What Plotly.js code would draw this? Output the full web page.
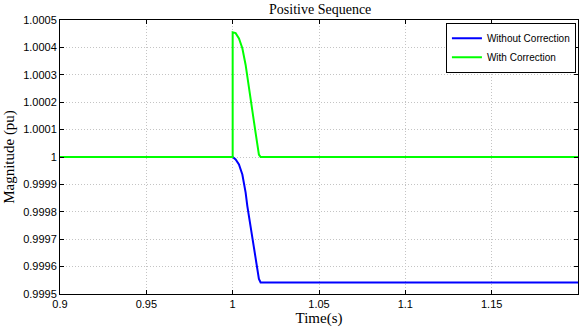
<!DOCTYPE html>
<html>
<head>
<meta charset="utf-8">
<script src="https://cdn.plot.ly/plotly-3.0.1.min.js"></script>
<style>html,body{margin:0;padding:0;background:#fff;}#chart{width:579px;height:329px;}</style>
</head>
<body>
<div id="chart"></div>
<script>
// Time (s) and magnitude (pu) samples
var timeWithout = [0.9, 1.0, 1.00173, 1.00364, 1.00561, 1.00653, 1.00751, 1.0085, 1.00942, 1.01139, 1.01329, 1.0152, 1.01618, 1.2];
var magWithout  = [1.0, 1.0, 0.999991, 0.999973, 0.999936, 0.999906, 0.99987, 0.999821, 0.999784, 0.999706, 0.999633, 0.999555, 0.999542, 0.999542];

var timeWith = [0.9, 1.0, 1.0, 1.00173, 1.00364, 1.00561, 1.00751, 1.00942, 1.01139, 1.01329, 1.0152, 1.01618, 1.2];
var magWith  = [1.0, 1.0, 1.000455, 1.000452, 1.000433, 1.000397, 1.000336, 1.000249, 1.000173, 1.000088, 1.000009, 1.0, 1.0];

var xTickVals = [0.9, 0.95, 1.0, 1.05, 1.1, 1.15];
var xTickText = ["0.9", "0.95", "1", "1.05", "1.1", "1.15"];
var yTickVals = [0.9995, 0.9996, 0.9997, 0.9998, 0.9999, 1.0, 1.0001, 1.0002, 1.0003, 1.0004, 1.0005];
var yTickText = ["0.9995", "0.9996", "0.9997", "0.9998", "0.9999", "1", "1.0001", "1.0002", "1.0003", "1.0004", "1.0005"];

var traces = [
  {x: timeWithout, y: magWithout, type: 'scatter', mode: 'lines', name: 'Without Correction',
   line: {color: '#0000ff', width: 2}},
  {x: timeWith, y: magWith, type: 'scatter', mode: 'lines', name: 'With Correction',
   line: {color: '#00ff00', width: 2}}
];

var axisCommon = {
  showline: true, linecolor: '#000', linewidth: 1, mirror: 'allticks',
  ticks: 'inside', ticklen: 4, tickcolor: '#000',
  showgrid: true, gridcolor: '#c4c4c4', griddash: '1px,2px', gridwidth: 1,
  zeroline: false,
  tickfont: {family: 'Liberation Sans, Arial, sans-serif', size: 11, color: '#000'}
};

var layout = {
  width: 579, height: 329,
  margin: {l: 60, r: 1, t: 20, b: 35},
  paper_bgcolor: '#fff', plot_bgcolor: '#fff',
  title: {text: 'Positive Sequence', x: 0.553, xanchor: 'center', y: 0.972, yanchor: 'middle',
          font: {family: 'Liberation Serif, Times New Roman, serif', size: 14, color: '#000'}},
  xaxis: Object.assign({}, axisCommon, {
    range: [0.9, 1.2], tickvals: xTickVals, ticktext: xTickText,
    title: {text: 'Time(s)', standoff: 1, font: {family: 'Liberation Serif, Times New Roman, serif', size: 15, color: '#000'}}
  }),
  yaxis: Object.assign({}, axisCommon, {
    range: [0.9995, 1.0005], tickvals: yTickVals, ticktext: yTickText,
    title: {text: 'Magnitude (pu)', standoff: 4, font: {family: 'Liberation Serif, Times New Roman, serif', size: 15, color: '#000'}}
  }),
  showlegend: true,
  legend: {x: 0.996, y: 0.99, xanchor: 'right', yanchor: 'top',
           bgcolor: '#fff', bordercolor: '#000', borderwidth: 1,
           font: {family: 'Liberation Sans, Arial, sans-serif', size: 10, color: '#000'},
           tracegroupgap: 0, itemwidth: 30}
};

Plotly.newPlot('chart', traces, layout, {staticPlot: true, displayModeBar: false});
</script>
</body>
</html>
